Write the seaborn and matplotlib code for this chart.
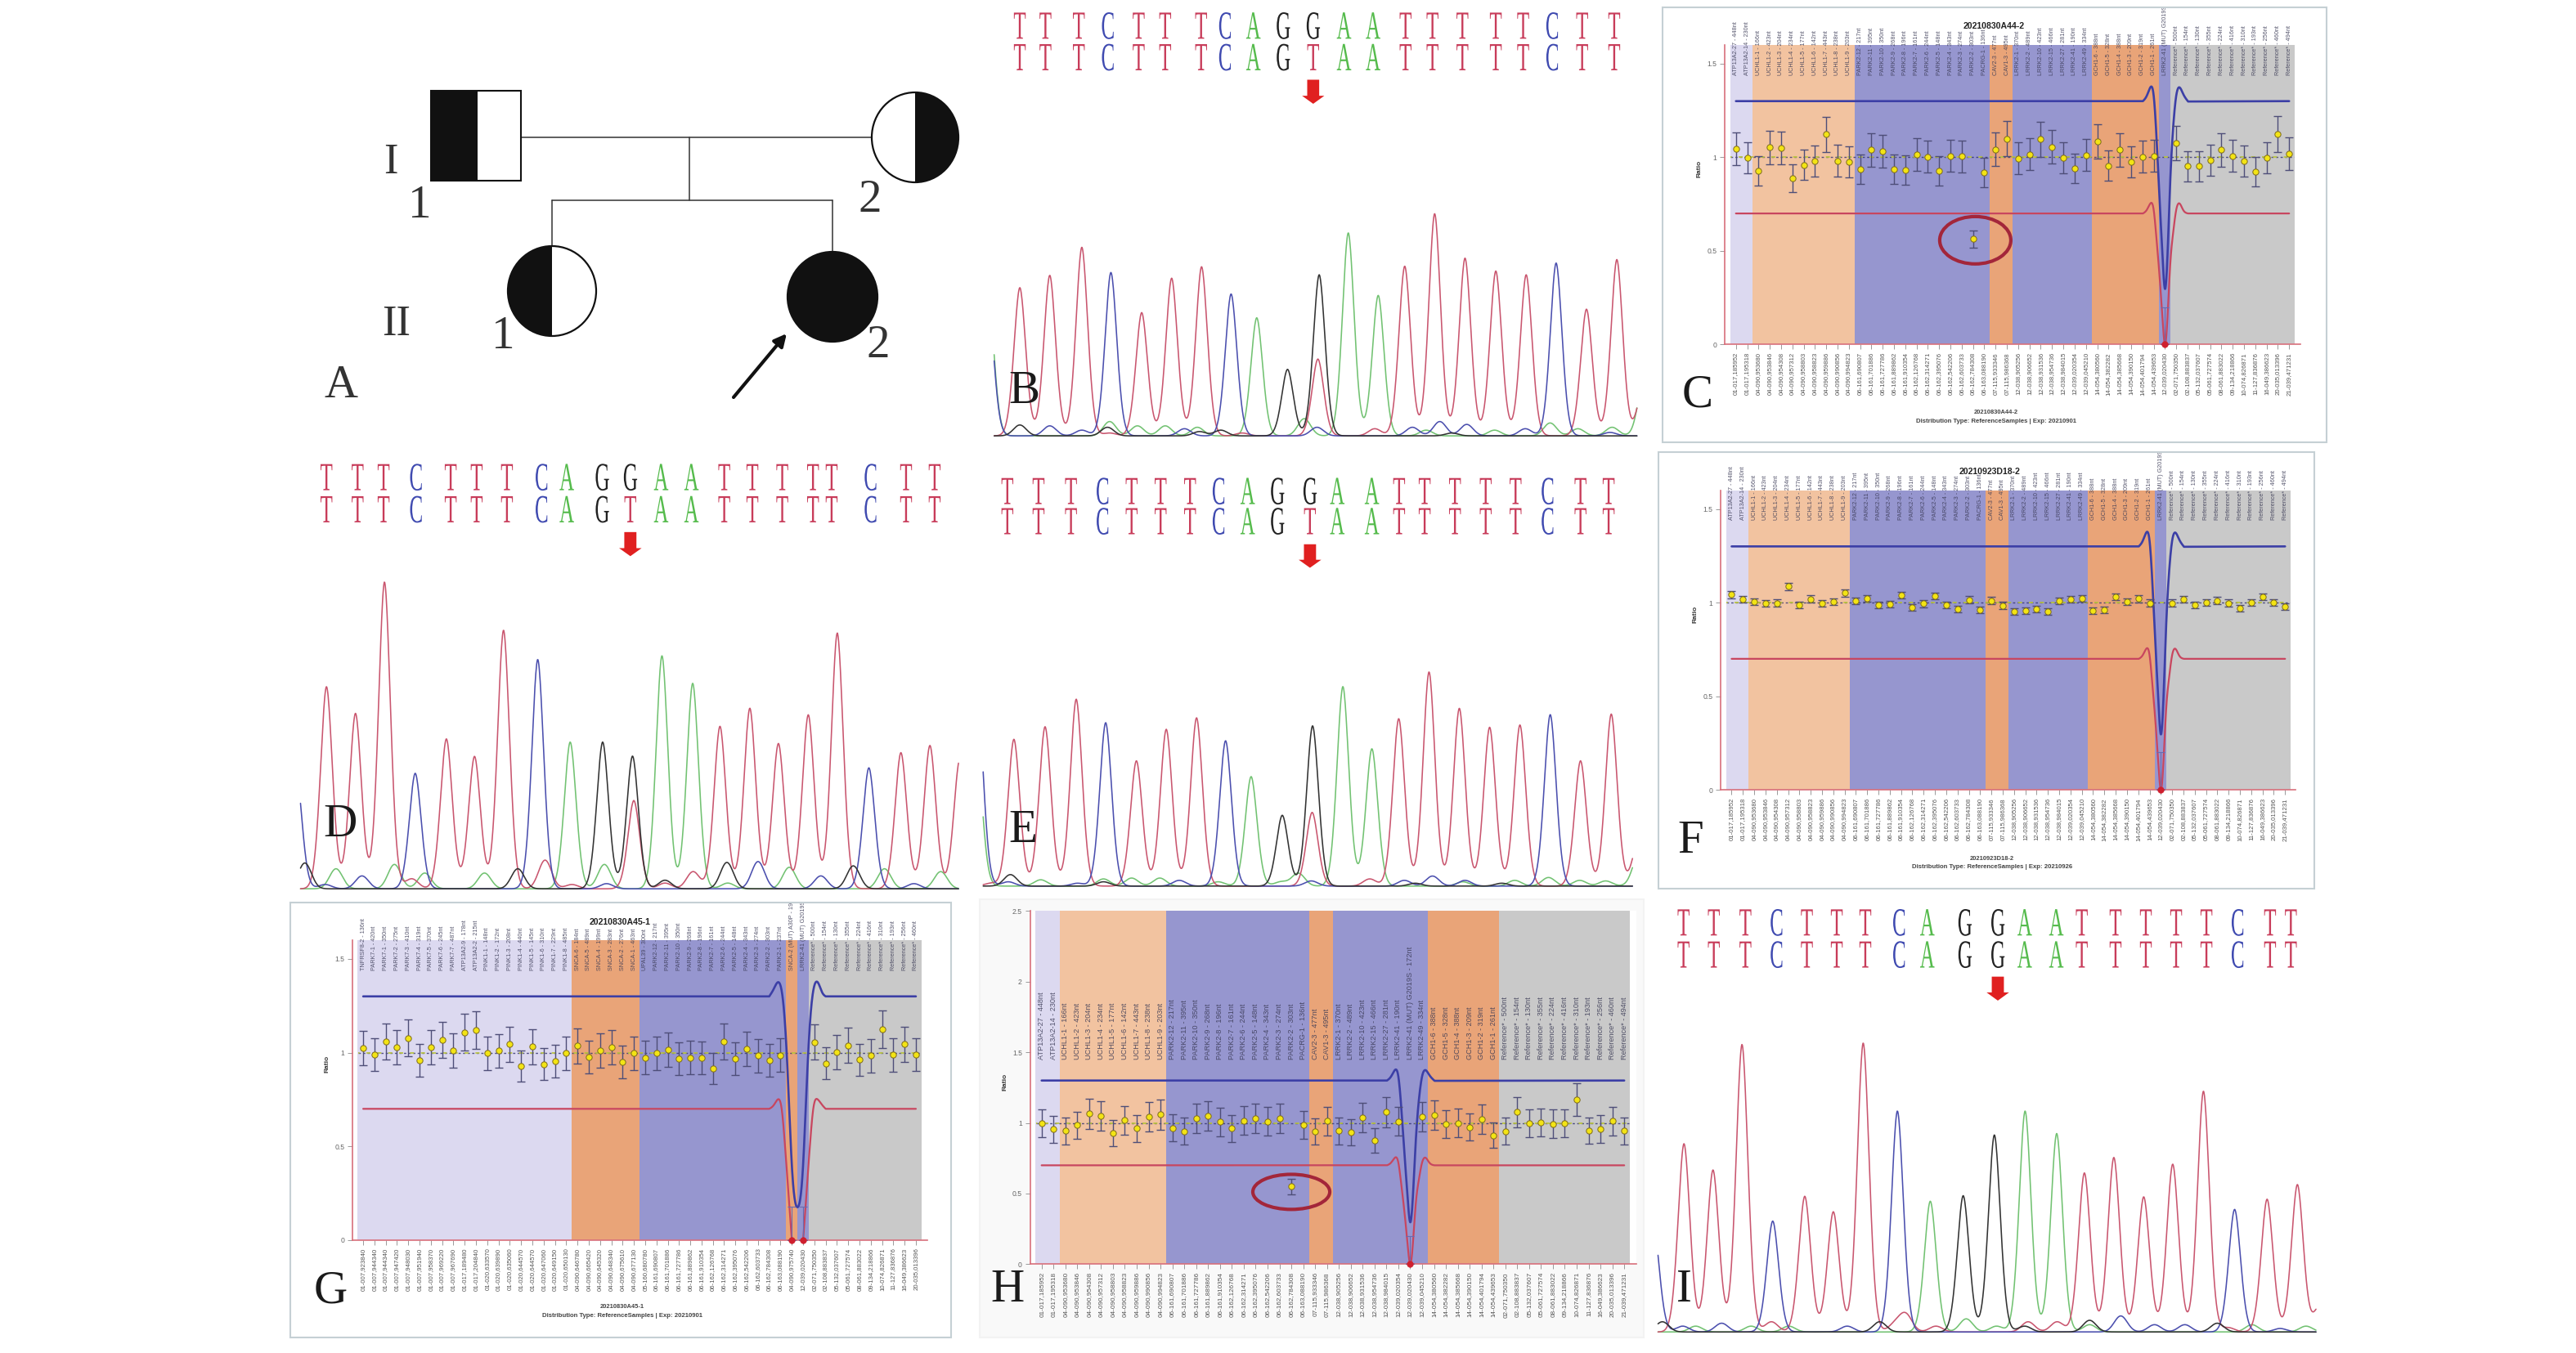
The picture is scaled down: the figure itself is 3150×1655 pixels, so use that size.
import numpy as np
import pandas as pd
import matplotlib
matplotlib.use("Agg")
import matplotlib.pyplot as plt
import seaborn as sns
from matplotlib.patches import Rectangle, Ellipse, FancyArrow, Polygon
from matplotlib.patheffects import AbstractPathEffect
from matplotlib.transforms import Affine2D, Bbox

W, H = 3150, 1655

# ---------------- sequence strings ----------------
SEQ_TOP = list("TTTCTTTCAGGAATTTTTCTT")
SEQ_MUT = list("TTTCTTTCAGTAATTTTTCTT")

# ---------------- chromatograms: peak position -> signal height ----------------
B_POS = [90,150,228,296,368,430,514,570,636,706,776,848,916,992,1055,1125,1203,1267,1335,1405,1480]
B_RED = {90:517,160:560,235:658,375:430,445:550,515:590,787:268,990:592,1060:775,1131:620,1203:575,1274:562,1415:442,1486:615,1548:170}
B_BLUE = {303:570,584:495,1344:603,15:480}
B_GREEN = {644:412,858:708,928:490,15:520,1550:210}
B_BLACK = {716:232,790:562}
B_BUMPS = {"blue":{160:35,235:20,475:25,785:30,1008:30,1072:50,1135:40,1272:25,1470:12},
           "green":{300:50,365:35,430:35,505:30,755:60,1040:20,1200:20,1330:45,1395:25,1475:30},
           "black":{90:38,295:30,510:15,560:20,1100:10},
           "red":{300:10,920:25,610:10}}

D_POS = [93,165,225,300,380,440,510,590,648,730,795,866,936,1012,1077,1146,1217,1260,1350,1432,1498]
D_RED = {93:705,160:612,227:1070,370:523,435:462,502:902,803:308,1002:567,1071:630,1137:507,1206:607,1273:892,1420:475,1487:500,1556:452}
D_BLUE = {298:403,581:800,1346:422,22:420}
D_GREEN = {656:512,868:813,939:717}
D_BLACK = {731:512,800:463}
D_BUMPS = {"blue":{175:45,90:15,740:18,1090:95,1235:45,1450:18},
           "green":{115:70,250:85,320:55,458:55,735:85,1020:20,1162:75,1382:70,1512:60},
           "black":{43:90,535:70,875:30,1018:92,1310:80},
           "red":{290:35,598:100,660:15,875:20,940:60}}

E_POS = [98,170,245,318,385,452,520,586,653,722,797,860,940,1003,1062,1132,1203,1272,1346,1422,1487]
E_RED = {113:512,185:556,257:652,396:437,465:547,535:587,802:257,1002:584,1072:747,1142:620,1212:554,1282:562,1422:437,1493:600,1556:160}
E_BLUE = {325:570,602:507,1352:598,28:680}
E_GREEN = {661:382,873:696,940:479,25:520,1556:110}
E_BLACK = {733:247,803:559}
E_BUMPS = {"blue":{100:15,260:10,495:20,800:18,1015:20,1080:35,1155:20},
           "green":{175:22,320:25,385:28,450:28,585:15,730:15,770:45,1150:15,1270:20,1348:30,1420:20,1480:18},
           "black":{105:40,320:15,1040:10,1240:10},
           "red":{935:25,60:10}}

I_POS = [92,162,235,307,377,446,512,590,655,742,818,880,953,1012,1090,1160,1230,1300,1372,1447,1495]
I_RED = {93:645,160:555,227:985,372:465,438:412,507:990,1018:545,1086:598,1155:463,1222:575,1293:825,1440:455,1510:505,1562:90}
I_BLUE = {298:380,586:757,1365:420,22:370}
I_GREEN = {662:448,881:757,954:680}
I_BLACK = {738:467,810:675}
I_BUMPS = {"blue":{90:20,180:30,470:20,1102:55,1180:25,1250:25,1470:12},
           "green":{120:20,248:20,335:20,745:45,815:20,1030:25,1405:25,1530:20},
           "black":{43:35,545:35,880:20,1030:40,1325:30},
           "red":{295:35,580:25,605:60,675:20,888:35,955:35,1350:15}}

# ---------------- CNV panels: ratio per probe ----------------
C_RATIO = [1.045,.997,.928,1.054,1.05,.889,.96,.979,1.122,.982,.974,.937,1.039,1.033,.937,.931,1.015,1.003,.928,1.008,1.005,.563,.919,1.042,1.099,.994,1.017,1.096,1.056,.997,.94,1.012,1.083,.955,1.039,.974,1.002,1.008,0,1.077,.952,.952,.985,1.039,1.008,.979,.922,.997,1.123,1.018]
F_RATIO = [1.043,1.017,1.005,.995,.998,1.086,.986,1.02,.995,1.005,1.051,1.008,1.023,.988,.992,1.04,.975,.994,1.035,.988,.966,1.015,.96,1.011,.985,.954,.956,.966,.951,1.008,1.018,1.023,.956,.962,1.031,1.005,1.021,.998,0,.998,1.018,.988,1.0,1.011,.998,.971,1.0,1.032,1.002,.98]
G_RATIO = [1.025,.989,1.059,1.028,1.078,.958,1.028,1.067,1.012,1.109,1.12,.997,1.009,1.044,.927,1.031,.938,.955,.997,1.036,.977,1.012,1.028,.95,.997,.974,.997,1.016,.966,.974,.97,.916,1.058,.969,1.019,.984,.958,.986,0,0,1.056,.942,1.003,1.039,.961,.984,1.125,.988,1.045,.989]
H_RATIO = [.998,.955,.944,.983,1.066,1.05,.926,1.019,.961,1.045,1.06,.965,.942,1.033,1.05,1.008,.961,1.017,1.033,1.01,1.033,.55,.988,.938,1.014,.944,.934,1.037,.874,1.076,1.01,0,1.045,1.056,.992,1.0,.971,1.027,.913,.942,1.076,.998,1.004,.994,.998,1.165,.946,.957,1.014,.944]

UPPER_DIP = [1.3,1.33,1.373,1.33,1.163,.861,.485,.297,.485,.861,1.163,1.33,1.373,1.34,1.298]
LOWER_DIP = [.7,.72,.753,.72,.6,.42,.15,0,.15,.42,.6,.72,.753,.72,.7]
DIP_DX = [-1.95,-1.6,-1.3,-1.0,-.8,-.55,-.23,0,.23,.46,.73,1.0,1.3,1.6,2.05]
G_DIP_X = [36,36.4,36.75,37.1,37.4,37.7,38,38.5,39,39.3,39.6,39.9,40.3,40.7,41]
G_UPPER = [1.3,1.34,1.375,1.33,1.15,.8,.4,.175,.4,.8,1.15,1.33,1.375,1.32,1.3]
G_LOWER = [.7,.72,.75,.7,.5,.25,0,-.2,0,.25,.5,.7,.75,.72,.7]

# ---------------- probe names / positions ----------------
ATP = ["ATP13A2-27 - 448nt","ATP13A2-14 - 230nt"]
UCH = ["UCHL1-1 - 166nt","UCHL1-2 - 423nt","UCHL1-3 - 204nt","UCHL1-4 - 234nt","UCHL1-5 - 177nt","UCHL1-6 - 142nt","UCHL1-7 - 443nt","UCHL1-8 - 238nt","UCHL1-9 - 203nt"]
PARK = ["PARK2-12 - 217nt","PARK2-11 - 395nt","PARK2-10 - 350nt","PARK2-9 - 268nt","PARK2-8 - 196nt","PARK2-7 - 161nt","PARK2-6 - 244nt","PARK2-5 - 148nt","PARK2-4 - 343nt","PARK2-3 - 274nt","PARK2-2 - 303nt","PACRG-1 - 136nt"]
CAV = ["CAV2-3 - 477nt","CAV1-3 - 495nt"]
LRRK = ["LRRK2-1 - 370nt","LRRK2-2 - 489nt","LRRK2-10 - 423nt","LRRK2-15 - 466nt","LRRK2-27 - 281nt","LRRK2-41 - 190nt"]
MUT = ["LRRK2-41 (MUT) G2019S - 172nt"]
LRRK49 = ["LRRK2-49 - 334nt"]
GCH = ["GCH1-6 - 388nt","GCH1-5 - 328nt","GCH1-4 - 388nt","GCH1-3 - 209nt","GCH1-2 - 319nt","GCH1-1 - 261nt"]
REF = ["Reference* - 500nt","Reference* - 154nt","Reference* - 130nt","Reference* - 355nt","Reference* - 224nt","Reference* - 416nt","Reference* - 310nt","Reference* - 193nt","Reference* - 256nt","Reference* - 460nt","Reference* - 494nt"]
PROBES_H = ATP + UCH + PARK + CAV + LRRK + MUT + LRRK49 + GCH + REF
PROBES_C = ATP + UCH + PARK + CAV + LRRK + LRRK49 + GCH + MUT + REF
PROBES_G = ["TNFRSF8-2 - 136nt","PARK7-1 - 420nt","PARK7-1 - 350nt","PARK7-2 - 275nt","PARK7-3 - 410nt","PARK7-4 - 319nt","PARK7-5 - 370nt","PARK7-6 - 245nt","PARK7-7 - 487nt","ATP13A2-9 - 178nt","ATP13A2-2 - 215nt","PINK1-1 - 148nt","PINK1-2 - 172nt","PINK1-3 - 208nt","PINK1-4 - 440nt","PINK1-5 - 145nt","PINK1-6 - 310nt","PINK1-7 - 229nt","PINK1-8 - 485nt","SNCA-6 - 184nt","SNCA-5 - 489nt","SNCA-4 - 199nt","SNCA-3 - 283nt","SNCA-2 - 276nt","SNCA-1 - 463nt","UPAL39 - 300nt"] + PARK[:11] + ["PARK2-1 - 237nt","SNCA-2 (MUT) A30P - 193nt","LRRK2-41 (MUT) G2019S - 172nt"] + REF[:10]
POS_A = ["01-017,185952","01-017,195318","04-090,953680","04-090,953846","04-090,954308","04-090,957312","04-090,958803","04-090,958823","04-090,959886","04-090,990856","04-090,994823","06-161,690807","06-161,701886","06-161,727786","06-161,889862","06-161,910354","06-162,126768","06-162,314271","06-162,395076","06-162,542206","06-162,603733","06-162,784308","06-163,088190","07-115,933346","07-115,986368"]
POS_L = ["12-038,905256","12-038,906652","12-038,931536","12-038,954736","12-038,984015","12-039,020354"]
POS_M = ["12-039,020430"]
POS_L2 = ["12-039,045210"]
POS_G = ["14-054,380560","14-054,382282","14-054,385668","14-054,390150","14-054,401794","14-054,439653"]
POS_R = ["02-071,750350","02-108,883837","05-132,037607","05-061,727574","08-061,883022","09-134,218866","10-074,826871","11-127,836876","16-049,386623","20-035,013396","21-039,471231"]
POS_H = POS_A + POS_L + POS_M + POS_L2 + POS_G + POS_R
POS_C = POS_A + POS_L + POS_L2 + POS_G + POS_M + POS_R
POS_GG = ["01-007,923840","01-007,944340","01-007,944340","01-007,947420","01-007,948030","01-007,951940","01-007,958370","01-007,969220","01-007,967690","01-017,189480","01-017,204840","01-020,633570","01-020,639890","01-020,635060","01-020,644570","01-020,644570","01-020,647060","01-020,649150","01-020,650130","04-090,646780","04-090,665420","04-090,645320","04-090,648340","04-090,675610","04-090,677130","05-160,680780","06-161,690807","06-161,701886","06-161,727786","06-161,889862","06-161,910354","06-162,126768","06-162,314271","06-162,395076","06-162,542206","06-162,603733","06-162,784308","06-163,088190","04-090,975740","12-039,020430","02-071,750350","02-108,883837","05-132,037607","05-061,727574","08-061,883022","09-134,218866","10-074,826871","11-127,836876","16-049,386623","20-035,013396"]

TICKS = [0, .5, 1, 1.5]
TICK_LABELS = ["0", "0.5", "1", "1.5"]
H_TICKS = [0, .5, 1, 1.5, 2, 2.5]
H_TICK_LABELS = ["0", "0.5", "1", "1.5", "2", "2.5"]

LAV, LOR, PUR, ORG, GRY = "#dcd9f0", "#f2c3a0", "#9696cf", "#e9a478", "#c9c9c9"
BANDS_STD = [(-.5,1.5,LAV),(1.5,10.5,LOR),(10.5,22.5,PUR),(22.5,24.5,ORG),(24.5,31.5,PUR),(31.5,37.5,ORG),(37.5,38.5,PUR),(38.5,49.5,GRY)]
BANDS_G = [(-.5,18.5,LAV),(18.5,24.5,ORG),(24.5,37.5,PUR),(37.5,38.5,ORG),(38.5,39.5,PUR),(39.5,49.5,GRY)]
BANDS_H = [(-.5,1.5,LAV),(1.5,10.5,LOR),(10.5,22.5,PUR),(22.5,24.5,ORG),(24.5,32.5,PUR),(32.5,38.5,ORG),(38.5,49.5,GRY)]

sns.set_style("white")
plt.rcParams["font.family"] = ["Liberation Sans", "DejaVu Sans"]
fig = plt.figure(figsize=(W/100, H/100), dpi=100, facecolor="white")
BLUE, RED, GREEN, BLACK = "#4b4fae", "#c9566f", "#72c272", "#333333"
COLS = {"red":RED, "green":GREEN, "blue":BLUE, "black":BLACK}
LET = {"T":"#c83c5a", "C":"#3f4ab0", "A":"#55bb4c", "G":"#222222"}


class Stretch(AbstractPathEffect):
    def __init__(self, sy):
        super().__init__()
        self.sy = sy
    def draw_path(self, renderer, gc, tpath, affine, rgbFace=None):
        renderer.draw_path(gc, tpath, Affine2D().scale(1, self.sy) + affine, rgbFace)


def px_axes(x0, y0, x1, y1):
    return fig.add_axes([x0/W, 1-y1/H, (x1-x0)/W, (y1-y0)/H])


def ftext(x, y, s, **kw):
    kw.setdefault("ha", "center"); kw.setdefault("va", "center")
    fig.text(x/W, 1-y/H, s, **kw)


def panel_letter(x, y, s, size=41):
    ftext(x, y, s, family="Liberation Serif", fontsize=size, color="#1a1a1a")


def trace(ax, x, peaks, bumps, color):
    y = np.zeros_like(x)
    for p, h in peaks.items():
        y = y + h*np.exp(-.5*np.abs((x-p)/13.5)**1.85)
    for p, h in bumps.items():
        y = y + h*np.exp(-.5*((x-p)/15)**2)
    sns.lineplot(x=x, y=y, ax=ax, color=color, lw=1.15, errorbar=None, sort=False)


def chromatogram(crop, baseline, pos, r, b, g, k, bumps, rows, arrow, seq2, x_end=(30, 1540)):
    x0, y0, w, h = crop
    sy = min(3, 1568/h)
    vmax = sy*h
    ax = px_axes(x0, y0, x0+w, y0+h)
    x = np.linspace(x_end[0], x_end[1], 1500)
    trace(ax, x, g, bumps["green"], COLS["green"])
    trace(ax, x, r, bumps["red"], COLS["red"])
    trace(ax, x, b, bumps["blue"], COLS["blue"])
    trace(ax, x, k, bumps["black"], COLS["black"])
    for row, seq in zip(rows, (SEQ_TOP, seq2)):
        for p, ch in zip(pos, seq):
            ax.text(p, baseline-row, ch, family="Liberation Serif", fontsize=18, ha="center",
                    va="baseline", color=LET[ch], path_effects=[Stretch(1.95)])
    atop, abot = arrow[1], arrow[2]
    ax.add_patch(FancyArrow(arrow[0], baseline-atop, 0, -(abot-atop), width=28, head_width=52,
                            head_length=28, length_includes_head=True, color="#e02020", lw=0))
    ax.set_xlim(0, 1568)
    ax.set_ylim(baseline-vmax, baseline)
    ax.axis("off")


def natural_spline(x, y, xs):
    x, y = np.asarray(x, float), np.asarray(y, float)
    n = len(x); h = np.diff(x)
    A = np.zeros((n, n)); b = np.zeros(n)
    A[0, 0] = A[-1, -1] = 1
    for i in range(1, n-1):
        A[i, i-1], A[i, i], A[i, i+1] = h[i-1], 2*(h[i-1]+h[i]), h[i]
        b[i] = 6*((y[i+1]-y[i])/h[i]-(y[i]-y[i-1])/h[i-1])
    m = np.linalg.solve(A, b)
    j = np.clip(np.searchsorted(x, xs)-1, 0, n-2)
    t1, t0 = x[j+1]-xs, xs-x[j]
    return (m[j]*t1**3+m[j+1]*t0**3)/(6*h[j])+(y[j]/h[j]-m[j]*h[j]/6)*t1+(y[j+1]/h[j]-m[j+1]*h[j]/6)*t0


def limit_line(ax, kx, ky, flat, color, lw):
    xs = np.linspace(kx[0], kx[-1], 240)
    ys = natural_spline(kx, ky, xs)
    xx = np.r_[0, xs, 49]; yy = np.r_[flat, ys, flat]
    sns.lineplot(x=xx, y=yy, ax=ax, color=color, lw=lw, errorbar=None, sort=False)


def cnv(rect, xlim, ylim, ratios, bands, probes, positions, ticks, tlabels, frac, zero_top, border,
        upper, lower, label_r=1.44, label_fs=5.2, ratio_y=1.25, oval=None, pos_fs=5.6):
    ax = px_axes(*rect)
    for a, b, c in bands:
        ax.axvspan(a, b, color=c, lw=0, zorder=0)
    idx = np.arange(len(ratios)); vals = np.asarray(ratios, float)
    ax.axhline(1, xmin=0.01, xmax=.99, color="#303070", lw=1.0, ls=(0, (2, 2)), zorder=1, alpha=.8)
    ax.axhline(1, xmin=0.01, xmax=.99, color="#b9c43a", lw=1.2, ls=(2, (3, 5)), zorder=1)
    limit_line(ax, upper[0], upper[1], 1.3, "#3c3fa6", 1.9)
    limit_line(ax, lower[0], lower[1], .7, "#c8465f", 1.6)
    err = np.where(vals == 0, 0, vals*frac)
    ax.errorbar(idx, vals, yerr=err, fmt="none", ecolor="#4e4e78", elinewidth=1.0, capsize=3.4, capthick=1.0, zorder=3)
    z = vals == 0
    ax.errorbar(idx[z], vals[z], yerr=[np.zeros(z.sum()), np.full(z.sum(), zero_top)], fmt="none",
                ecolor="#6a6ab0", elinewidth=.8, capsize=3.4, capthick=.8, zorder=3)
    df = pd.DataFrame({"i": idx[~z], "r": vals[~z]})
    sns.scatterplot(data=df, x="i", y="r", ax=ax, color="#f3e414", edgecolor="#7d6a1c", s=28, lw=.7, zorder=4)
    d0 = pd.DataFrame({"i": idx[z], "r": vals[z]})
    sns.scatterplot(data=d0, x="i", y="r", ax=ax, color="#cf1f2e", edgecolor="#cf1f2e", s=30, zorder=5, clip_on=False)
    if oval:
        ax.add_patch(Ellipse((oval[0], oval[1]), oval[2], oval[3], fc="none", ec="#a3263a", lw=3.0, zorder=6))
    ax.set_xlim(*xlim); ax.set_ylim(*ylim)
    ax.set_xticks(idx); ax.set_xticklabels(positions, rotation=90, fontsize=pos_fs, color="#555555")
    ax.set_yticks(ticks); ax.set_yticklabels(tlabels, fontsize=6.2, color="#666666")
    ax.tick_params(axis="both", length=4, width=.7, color="#999999", pad=3, bottom=True, left=True)
    ax.set_xlabel(""); ax.set_ylabel("")
    sns.despine(ax=ax)
    for s in ("left", "bottom"):
        ax.spines[s].set_color("#d8707c"); ax.spines[s].set_linewidth(1.2)
    clip = Bbox.from_extents(border[0], H-border[3], border[2], H-border[1])
    for i, t in enumerate(probes):
        tx = ax.text(i, label_r, t, rotation=90, ha="center", va="bottom", fontsize=label_fs,
                     color="#3a3a55", alpha=.85, zorder=7, clip_on=True)
        tx.set_clip_box(clip)
    ftext(rect[0]-31, rect[3]-(rect[3]-rect[1])*ratio_y/ylim[1]*.75, "Ratio", rotation=90, fontsize=6, weight="bold", color="#333333")
    return ax


def box(x0, y0, x1, y1, ec="#c5d0d4", fc="none", z=1):
    fig.add_artist(Rectangle((x0/W, 1-y1/H), (x1-x0)/W, (y1-y0)/H, transform=fig.transFigure, fc=fc, ec=ec, lw=1.5, zorder=z))


# ---------- A : pedigree ----------
ax = px_axes(380, 60, 1180, 520)
ax.set_xlim(380, 1180); ax.set_ylim(520, 60); ax.axis("off")
def person(cx, cy, rx, ry, side):
    ax.add_patch(Ellipse((cx, cy), 2*rx, 2*ry, fc="white" if side else "#111111", ec="#111111", lw=1.6, zorder=3))
    if side:
        th = np.linspace(-np.pi/2, np.pi/2, 100)
        ax.add_patch(Polygon(np.c_[cx+side*rx*np.cos(th), cy+ry*np.sin(th)], fc="#111111", ec="none", zorder=4))
for xs, ys in [((637, 1065), (168, 168)), ((843, 843), (168, 245)), ((675, 1018), (245, 245)),
               ((675, 675), (245, 301)), ((1018, 1018), (245, 308))]:
    ax.plot(xs, ys, color="#333333", lw=1.1, zorder=1)
ax.add_patch(Rectangle((527, 111), 110, 110, fc="white", ec="#111111", lw=1.5, zorder=3))
ax.add_patch(Rectangle((527, 111), 57, 110, fc="#111111", ec="none", zorder=4))
person(1119, 168, 53, 55, 1)
person(675, 356, 54, 55, -1)
person(1018, 363, 55, 55, 0)
ax.annotate("", xy=(962, 408), xytext=(897, 486),
            arrowprops=dict(arrowstyle="-|>,head_width=.45,head_length=.9", lw=3, color="#111111", shrinkA=0, shrinkB=0))
for x_, y_, s_, fs_ in [(478, 199, "I", 38), (513, 252, "1", 41), (1064, 245, "2", 41), (485, 397, "II", 38), (615, 412, "1", 41), (1074, 423, "2", 41), (417, 472, "A", 41)]:
    ftext(x_, y_, s_, family="Liberation Serif", fontsize=fs_, color="#333333")

# ---------- sequencing panels ----------
chromatogram((1200, 0, 820, 550), 1520, B_POS, B_RED, B_BLUE, B_GREEN, B_BLACK, B_BUMPS, (135, 245), (776, 278, 362), SEQ_MUT, (30, 1533))
chromatogram((350, 540, 830, 550), 1560, D_POS, D_RED, D_BLUE, D_GREEN, D_BLACK, D_BUMPS, (170, 282), (795, 316, 400), SEQ_MUT, (33, 1553))
chromatogram((1180, 550, 830, 550), 1522, E_POS, E_RED, E_BLUE, E_GREEN, E_BLACK, E_BUMPS, (190, 295), (797, 330, 412), SEQ_MUT, (42, 1542))
chromatogram((2010, 1090, 830, 560), 1510, I_POS, I_RED, I_BLUE, I_GREEN, I_BLACK, I_BUMPS, (152, 262), (818, 293, 375), SEQ_TOP, (33, 1553))

# ---------- CNV panels ----------
box(1198, 1100, 2010, 1636, ec="#f3f3f3", fc="#f9f9f9", z=-1)
dip = lambda c: [c+d for d in DIP_DX]
cnv((2108.9, 55, 2812.5, 421.4), (-1, 49.96), (0, 1.6), C_RATIO, BANDS_STD, PROBES_C, POS_C, TICKS, TICK_LABELS,
    .085, .2, (2033, 9, 2845, 541), (dip(38), UPPER_DIP), (dip(38), LOWER_DIP), oval=(21.2, .557, 6.3, .253))
cnv((2104.2, 599.6, 2806.7, 966.3), (-.96, 49.9), (0, 1.6), F_RATIO, BANDS_STD, PROBES_C, POS_C, TICKS, TICK_LABELS,
    .018, .2, (2028, 553, 2830, 1087), (dip(38), UPPER_DIP), (dip(38), LOWER_DIP))
cnv((431, 1150, 1133.5, 1516.8), (-.95, 49.98), (0, 1.6), G_RATIO, BANDS_G, PROBES_G, POS_GG, TICKS, TICK_LABELS,
    .09, .18, (355, 1104, 1163, 1636), (G_DIP_X, G_UPPER), (G_DIP_X, G_LOWER))
cnv((1259.6, 1114.3, 2000.7, 1546.4), (-.97, 50), (0, 2.5), H_RATIO, BANDS_H, PROBES_H, POS_H, H_TICKS, H_TICK_LABELS,
    .1, .2, (1198, 1100, 2010, 1636), (dip(31), UPPER_DIP), (dip(31), LOWER_DIP), label_r=1.45, label_fs=6.6,
    ratio_y=1.72, oval=(21, .512, 6.47, .248), pos_fs=5.9)

box(2033, 9, 2845, 541); box(2028, 553, 2830, 1087); box(355, 1104, 1163, 1636)

DIST = "Distribution Type: ReferenceSamples | Exp: "
for (x_, y_, name, exp, ty) in [(2438, 32, "20210830A44-2", "20210901", 505), (2433, 577, "20210923D18-2", "20210926", 1050), (758, 1128, "20210830A45-1", "20210901", 1599)]:
    ftext(x_, y_, name, fontsize=7.6, weight="bold", color="#222222")
    ftext(x_+3, ty, name, fontsize=5.4, weight="bold", color="#444444")
    ftext(x_+3, ty+10.5, DIST+exp, fontsize=5.6, weight="bold", color="#444444")

for x_, y_, s_ in [(1252, 479, "B"), (2076, 483, "C"), (416, 1009, "D"), (1251, 1016, "E"), (2067, 1029, "F"),
                   (404, 1579, "G"), (1232, 1578, "H"), (2059, 1578, "I")]:
    panel_letter(x_, y_, s_)

fig.savefig("out.png", dpi=100, facecolor="white")
